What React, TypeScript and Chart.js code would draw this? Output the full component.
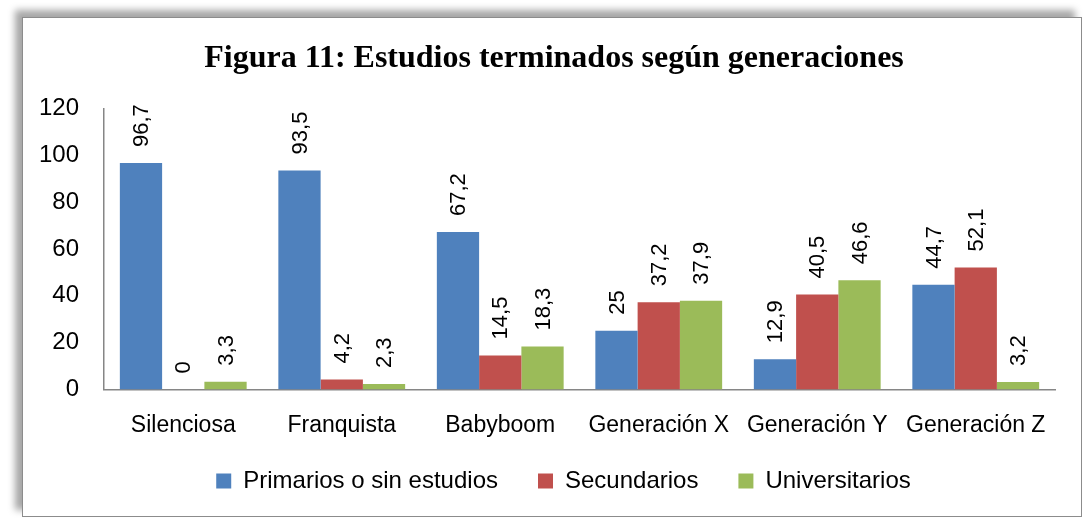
import React, { useEffect, useRef } from "react";
import { Chart, registerables } from "chart.js";

Chart.register(...registerables);

const categories = ["Silenciosa", "Franquista", "Babyboom", "Generación X", "Generación Y", "Generación Z"];
const primarios = [96.7, 93.5, 67.2, 25, 12.9, 44.7];
const secundarios = [0, 4.2, 14.5, 37.2, 40.5, 52.1];
const universitarios = [3.3, 2.3, 18.3, 37.9, 46.6, 3.2];
const seriesNames = ["Primarios o sin estudios", "Secundarios", "Universitarios"];
const titleText = "Figura 11: Estudios terminados según generaciones";

const SANS = "'Liberation Sans', Arial, sans-serif";

const dataLabels = {
  id: "dataLabels",
  afterDatasetsDraw(chart: any) {
    const ctx = chart.ctx;
    ctx.save();
    ctx.font = `22px ${SANS}`;
    ctx.fillStyle = "#000";
    ctx.textAlign = "left";
    ctx.textBaseline = "middle";
    chart.data.datasets.forEach((ds: any, i: number) => {
      const meta = chart.getDatasetMeta(i);
      meta.data.forEach((el: any, j: number) => {
        const v = ds.data[j];
        const txt = String(v).replace(".", ",");
        ctx.save();
        ctx.translate(el.x, el.y - 16);
        ctx.rotate(-Math.PI / 2);
        ctx.fillText(txt, 0, 1);
        ctx.restore();
      });
    });
    ctx.restore();
  },
};

// keep the legend compact vertically in the layout and place it at a fixed row
const LEGEND_H = 55;
const LEGEND_TOP = 411;
const boxPlace = {
  id: "boxPlace",
  beforeLayout(chart: any) {
    const lg = chart.legend;
    if (lg && !lg.__patched) {
      const orig = lg.fit;
      lg.fit = function () {
        orig.call(this);
        this.height = LEGEND_H;
      };
      lg.__patched = true;
    }
  },
  afterLayout(chart: any) {
    const lg = chart.legend;
    if (lg) {
      lg.top = LEGEND_TOP;
      lg.height = 80;
      lg.bottom = LEGEND_TOP + 80;
      lg.left = 23;
      lg.right = chart.width;
      lg.width = lg.right - lg.left;
    }
    const tb = chart.titleBlock;
    if (tb) {
      tb.left = 4;
      tb.right = chart.width;
      tb.width = tb.right - tb.left;
    }
  },
};

export default function App() {
  const ref = useRef<HTMLCanvasElement>(null);
  useEffect(() => {
    const c = new Chart(ref.current!, {
      type: "bar",
      data: {
        labels: categories,
        datasets: [
          { label: seriesNames[0], data: primarios, backgroundColor: "#4F81BD" },
          { label: seriesNames[1], data: secundarios, backgroundColor: "#C0504D" },
          { label: seriesNames[2], data: universitarios, backgroundColor: "#9BBB59" },
        ],
      },
      options: {
        responsive: false,
        animation: false,
        datasets: { bar: { categoryPercentage: 0.8, barPercentage: 1.0 } },
        layout: { padding: { left: 0, right: 26, top: 0, bottom: 0 } },
        plugins: {
          title: {
            display: true,
            text: titleText,
            color: "#000",
            font: { family: "'Liberation Serif', 'Times New Roman', serif", size: 32, weight: "bold" },
            padding: { top: 22, bottom: 30 },
          },
          legend: {
            position: "bottom",
            labels: {
              color: "#000",
              font: { family: SANS, size: 24 },
              boxWidth: 15,
              boxHeight: 15,
              padding: 40,
            },
          },
          tooltip: { enabled: false },
        },
        scales: {
          x: {
            grid: { display: false, drawTicks: false },
            border: { display: true, color: "#868686", width: 1.5 },
            ticks: { color: "#000", font: { family: SANS, size: 23 }, padding: 22, maxRotation: 0, autoSkip: false },
          },
          y: {
            min: 0,
            max: 120,
            grid: { display: false, drawTicks: false },
            border: { display: true, color: "#868686", width: 1.5 },
            ticks: { stepSize: 20, color: "#000", font: { family: SANS, size: 24 }, padding: 25 },
            afterFit: (s: any) => {
              s.width = 81;
            },
          },
        },
      },
      plugins: [boxPlace, dataLabels],
    });
    return () => c.destroy();
  }, []);

  return (
    <div style={{ position: "absolute", left: 0, top: 0, width: 1084, height: 519, background: "#fff" }}>
      <div
        style={{
          position: "absolute",
          left: 22,
          top: 17,
          width: 1058,
          height: 498,
          border: "1.5px solid #8c8c8c",
          background: "#fff",
          boxShadow: "-7px -7px 7px rgba(0,0,0,0.35)",
        }}
      >
        <canvas ref={ref} width={1058} height={498} style={{ display: "block" }} />
      </div>
    </div>
  );
}
